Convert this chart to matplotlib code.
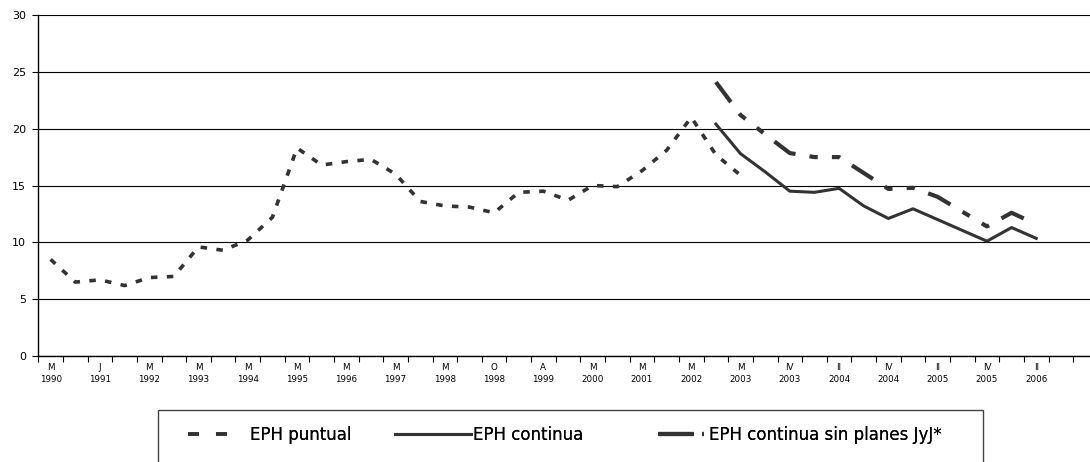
import matplotlib
matplotlib.use("Agg")
import matplotlib.pyplot as plt
from matplotlib.lines import Line2D
from matplotlib.patches import Rectangle
import numpy as np

nan = np.nan

# one label every second period
tick_labels = ["M\n1990", "J\n1991", "M\n1992", "M\n1993", "M\n1994", "M\n1995",
               "M\n1996", "M\n1997", "M\n1998", "O\n1998", "A\n1999", "M\n2000",
               "M\n2001", "M\n2002", "M\n2003", "IV\n2003", "II\n2004", "IV\n2004",
               "II\n2005", "IV\n2005", "II\n2006"]

eph_puntual = [8.5, 6.5, 6.7, 6.2, 6.9, 7.0, 9.6, 9.3, 10.2, 12.2,
               18.3, 16.8, 17.1, 17.3, 16.0, 13.6, 13.2, 13.1, 12.6, 14.4,
               14.5, 13.7, 15.0, 14.9, 16.3, 18.1, 21.0, 17.7, 15.9,
               nan, nan, nan, nan, nan, nan, nan, nan, nan, nan, nan, nan]

eph_continua = [nan] * 27 + [20.4, 17.8, 16.2, 14.5, 14.4, 14.75, 13.2,
                             12.1, 12.95, 12.0, 11.05, 10.1, 11.3, 10.35]

eph_sin_planes = [nan] * 27 + [24.1, 21.2, 19.5, 17.85, 17.5, 17.5, 16.1,
                               14.7, 14.8, 14.0, 12.7, 11.4, 12.6, 11.6]

labels = ["EPH puntual", "EPH continua", "EPH continua sin planes JyJ*"]

plt.rcParams["font.family"] = ["DejaVu Sans"]

W, H = 1090, 462
fig = plt.figure(figsize=(W / 100, H / 100), dpi=100)
left, bottom, top = 38.3, 356, 15
ax = fig.add_axes([left / W, 1 - bottom / H, 1 - left / W, (bottom - top) / H])

x = np.arange(len(eph_puntual))
color = "#333333"
ax.plot(x, eph_puntual, color=color, lw=2.6, dashes=(1.8, 2.6), dash_capstyle="butt")
ax.plot(x, eph_continua, color=color, lw=2.2)
ax.plot(x, eph_sin_planes, color=color, lw=3.0, dashes=(6, 3.4, 2, 3.4, 2, 3.4),
        dash_capstyle="butt")

ax.set_ylim(0, 30)
ax.set_yticks(range(0, 31, 5))
ax.set_xlim(-0.5, -0.5 + (W - left) / 24.64)
ax.set_xticks(x[::2], tick_labels)
ax.set_xticks(np.arange(-0.5, 42, 1), minor=True)
for lbl in ax.get_xticklabels():
    lbl.set_linespacing(1.4)
ax.tick_params(axis="x", which="major", length=0, pad=5, labelsize=6.3)
ax.tick_params(axis="x", which="minor", length=4, width=0.8, direction="out")
ax.tick_params(axis="y", length=4, width=0.8, pad=5, labelsize=8)
ax.grid(axis="y", color="black", lw=0.8)
ax.set_axisbelow(True)
for s in ["top", "right"]:
    ax.spines[s].set_visible(False)
ax.spines["left"].set_linewidth(1.0)
ax.spines["bottom"].set_linewidth(1.0)

# legend box, cut by the lower edge of the figure
box = Rectangle((158 / W, -0.1), (983 - 158) / W, 0.1 + 1 - 410 / H,
                transform=fig.transFigure, fill=False, edgecolor="#444444", lw=1.0)
fig.add_artist(box)

handles = [
    Line2D([], [], color=color, lw=2.6, dashes=(3.05, 4.7), dash_capstyle="butt"),
    Line2D([], [], color=color, lw=2.2),
    Line2D([], [], color=color, lw=3.0, dashes=(8.6, 2.0, 0.5, 10), dash_capstyle="butt"),
]
# (left edge px, handle length, text pad) for each legend entry
entry_x = [188, 395, 658]
entry_len = [2.35, 4.55, 2.76]
entry_pad = [1.4, 0.12, 0.3]
fs = 12
for h, lab, ex, hl, hp in zip(handles, labels, entry_x, entry_len, entry_pad):
    leg = fig.legend([h], [lab], loc="center left", bbox_to_anchor=(ex / W, 1 - 435 / H),
                     frameon=False, fontsize=fs, handlelength=hl, handletextpad=hp,
                     borderpad=0, borderaxespad=0)
    fig.add_artist(leg)

fig.savefig("out.png", dpi=100)
